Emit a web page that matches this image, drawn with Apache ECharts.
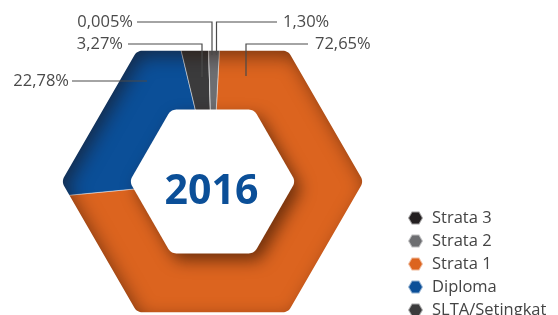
<!DOCTYPE html>
<html><head><meta charset="utf-8">
<script src="https://cdn.jsdelivr.net/npm/echarts@6/dist/echarts.min.js"></script>
<style>html,body{margin:0;padding:0;background:#fff}#c{width:558px;height:315px}</style>
</head><body><div id="c"></div>
<script>
// ---- data ----
var categories = ['Strata 1', 'Diploma', 'SLTA/Setingkat', 'Strata 3', 'Strata 2'];
var values = [72.65, 22.78, 3.27, 0.005, 1.30];
var valueLabels = ['72,65%', '22,78%', '3,27%', '0,005%', '1,30%'];
var legendOrder = ['Strata 3', 'Strata 2', 'Strata 1', 'Diploma', 'SLTA/Setingkat'];
var centerText = '2016';

// ---- styling / layout ----
var colors = {'Strata 1': '#dc641f', 'Diploma': '#0b4f98', 'SLTA/Setingkat': '#3b3b3c', 'Strata 3': '#231f20', 'Strata 2': '#6d6e71'};
var CX = 212.5, CY = 181.5, R_OUT = 151, R_IN = 83, CORNER = 9;
var labelPlace = [
  {x: 315, y: 44, align: 'left', pts: [[246, 76], [246, 44], [308, 44]]},
  {x: 69, y: 81, align: 'right', pts: [[147, 81], [110, 81], [72, 81]]},
  {x: 123, y: 44, align: 'right', pts: [[202, 77], [202, 44], [128, 44]]},
  {x: 133, y: 22, align: 'right', pts: [[212, 55], [212, 22], [137, 22]]},
  {x: 283, y: 22, align: 'left', pts: [[216.5, 55], [216.5, 22], [277, 22]]}
];

function hexPoints(cx, cy, R, r, reverse) {
  var pts = [];
  var d = R - r / Math.sin(Math.PI / 3);
  for (var k = 0; k < 6; k++) {
    var th = (180 + (reverse ? -60 : 60) * k) * Math.PI / 180;
    var ax = cx + d * Math.cos(th), ay = cy + d * Math.sin(th);
    for (var s = 0; s <= 8; s++) {
      var f = (reverse ? 30 - 60 * s / 8 : -30 + 60 * s / 8) * Math.PI / 180;
      pts.push([ax + r * Math.cos(th + f), ay + r * Math.sin(th + f)]);
    }
  }
  return pts;
}

var seriesData = categories.map(function (n, i) {
  return {name: n, value: values[i], itemStyle: {color: colors[n]}};
});
var labelData = categories.map(function (n, i) {
  return {name: n, value: values[i]};
});

var W = 558, H = 315;
var maskPts = [[-200, -200], [W + 200, -200], [W + 200, H + 200], [-200, H + 200], [-200, CY]];
var holePts = hexPoints(CX, CY, R_OUT, CORNER, true);
maskPts = maskPts.concat(holePts).concat([holePts[0], [-200, CY]]);

var chart = echarts.init(document.getElementById('c'));
chart.setOption({
  animation: false,
  legend: {
    orient: 'vertical', left: 407, top: 209.5, height: 140, padding: 0, z: 20,
    itemWidth: 15, itemHeight: 13, itemGap: 6,
    icon: 'path://M0,8.66L5,0L15,0L20,8.66L15,17.32L5,17.32Z',
    selectedMode: false,
    textStyle: {fontFamily: '"Open Sans"', fontSize: 16.5, lineHeight: 15.5, color: '#444', padding: [0, 0, 0, 4]},
    data: legendOrder.map(function (n) { return {name: n, itemStyle: {color: colors[n]}}; })
  },
  graphic: [
    {type: 'polygon', z: 5, silent: true, shape: {points: hexPoints(CX, CY, R_IN, CORNER, false)},
      style: {fill: '#fff', shadowBlur: 16, shadowOffsetX: 6, shadowOffsetY: 7, shadowColor: 'rgba(40,15,0,0.6)'}},
    {type: 'polygon', z: 6, silent: true, shape: {points: maskPts},
      style: {fill: '#fff', shadowBlur: 18, shadowOffsetX: 5, shadowOffsetY: 6, shadowColor: 'rgba(30,10,0,0.5)'}},
    {type: 'text', z: 7, silent: true, style: {x: CX - 1, y: CY + 11, text: centerText, align: 'center', verticalAlign: 'middle',
      font: 'bold 41px "Open Sans", Roboto, sans-serif', fill: '#0b4f98'}}
  ],
  series: [
    {
      type: 'pie', z: 2, silent: true, center: [CX, CY], radius: [0, R_OUT + 15],
      startAngle: 87, clockwise: true, avoidLabelOverlap: false,
      label: {show: false}, labelLine: {show: false},
      itemStyle: {borderColor: 'rgba(255,255,255,0.55)', borderWidth: 0.8},
      data: seriesData
    },
    {
      type: 'pie', z: 10, silent: true, center: [CX, CY], radius: [0, R_OUT + 15],
      startAngle: 87, clockwise: true, avoidLabelOverlap: false,
      itemStyle: {color: 'rgba(0,0,0,0)', borderWidth: 0},
      label: {show: true, fontFamily: '"Open Sans"', fontSize: 16.5, color: '#4a4a4a',
        formatter: function (p) { return valueLabels[p.dataIndex]; }},
      labelLine: {show: true, lineStyle: {color: '#4a4a4a', width: 1.2}},
      labelLayout: function (p) {
        var L = labelPlace[p.dataIndex];
        return {x: L.x, y: L.y, align: L.align, verticalAlign: 'middle', labelLinePoints: L.pts};
      },
      data: labelData
    }
  ]
});
</script>
</body></html>
